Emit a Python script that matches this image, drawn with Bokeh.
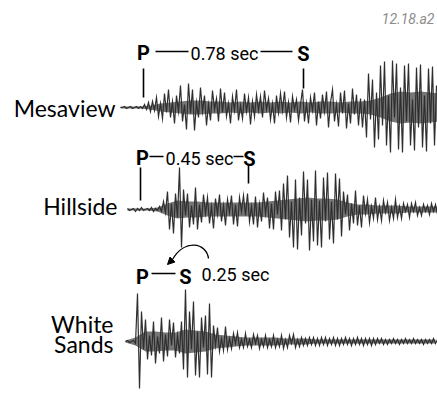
from bokeh.plotting import figure
from bokeh.models import Range1d, Arrow, NormalHead
from bokeh.core.properties import value
from bokeh.embed import file_html
from bokeh.resources import INLINE

# ---------------- data ----------------
stations = ["Mesaview", "Hillside", "White", "Sands"]
intervals = ["0.78 sec", "0.45 sec", "0.25 sec"]
figure_id = "12.18.a2"

# trace amplitudes (pixels above baseline, signed), sampled every 2 px
mesaview_amp = [0, 0, 1, -1, 0, 1, -1, 0, 1, -1, 1, -1,
                3, -2, 5, -4,
                6, -3, 10, -9, 4, -11,
                14, -5, 18, -10, 6, -16, 12, -4, 22,
                -14, 3, -22, 24, -6, 18, -23, 5, -10, 20,
                -4, 12, -18, 3, -13, 17, -2, 9, -14, 19,
                -5, 15, -9, 4, -16, 11, -3, 18, -13, 2,
                -11, 14, -4, 10, -17, 6, -9, 13, -3, 11,
                -10, 17, -2, 9, -12, 4, -16, 12, -5, 14,
                -3, 16, -10, 5, -15, 11, -2, 8, -13, 3,
                18, -14, 4, -16, 10, -3, 15, -18, 6, -11,
                13, -4, 16, -20, 5, 18, -14, 3, -19, 15,
                -6, 17, -21, 4, -16, 19, -7, 13, -18, 9,
                -20, 8, -30, 34, -12, 28, -40, 15, -32, 42,
                -18, 46, -38, 12, -45, 47, -10, 44, -42, 20,
                -45, 42, -14, 44, -38, 8, -43, 40, -20, 43,
                -40, 12, -44, 39, -16, 41, -38, 22]
hillside_amp = [1, -1, 0, 1, -2, 1, -1, 2, -1, 0, 1, -1, 2, -2, 1, -1, 3, -2,
                8, -3, 18, -20, 6, -24, 16, -8,
                42, -38,
                20, -6, 16, -18, 4, -15, 22, -20, 5, -13,
                15, -4, 12, -14, 3, -19, 11, -5, 15, -12,
                4, -16, 10, -3, 14, -15, 5, -17, 12, -2,
                14, -6, 16, -12, 3, -15, 13, -18, 5, -12,
                17, -4, 12, -19, 6, -20, 18, -5, 19, -21,
                26, -10, 34, -28, 8, -38, 30, -40, 12, -26,
                38, -14, 30, -41, 10, -32, 39, -36, 9, -38,
                32, -12, 37, -30, 8, -34, 36, -10, 31, -27,
                18, -5, 15, -21, 6, -14, 19, -16, 4, -18,
                14, -4, 10, -13, 3, -9, 12, -10, 3, -11,
                9, -3, 7, -11, 2, -9, 10, -8, 3, -9,
                6, -2, 5, -8, 6, -2, 7, -6, 2, -6,
                5, -2, 4, -5, 6, -2, 5, -5]
whitesands_amp = [0, 1, -1, 0, 1, -2,
                  48, -47,
                  30, -8, 22, -18, 6, -14, 20, -22, 5, -12,
                  24, -20, 7, -15, 22, -4, 19, -16, 6, -12,
                  20, -28, 52, -36, 30,
                  -8, 40, -34, 10, -36, 24, -6, 26, -33, 38, -36,
                  16, -4, 14, -10, 3, -9, 15, -8, 3, -7,
                  8, -2, 9, -6, 2, -6, 8, -5, 2, -6,
                  7, -2, 6, -7, 2, -5, 6, -6, 2, -5, 6,
                  -6, 2, -5, 6, -7, 2, -6, 6, -2, 7, -6, 2, -5, 4,
                  -4, 3, -4, 4, -3, 4, -4, 3, -4, 4, -3, 4, -4, 3, -3, 4, -4, 3, -4,
                  3, -3, 4, -3, 3, -4, 3, -3, 4, -3, 3, -4, 3, -3, 3, -4, 3, -3,
                  3, -2, 3, -3, 2, -3, 2, -2, 3, -2, 2, -3, 2, -2, 3, -2,
                  2, -2, 3, -2, 2, -2, 2, -3, 2, -2, 2, -2, 3, -2, 2]

# dense dark core half-thickness of each trace, sampled every 10 px
mesaview_core = [1, 1, 1, 2, 4, 5, 6, 7, 7, 6, 6, 5, 6, 5, 6, 5, 6, 5, 6, 5,
                 6, 6, 5, 6, 6, 7, 10, 14, 16, 15, 16, 15, 14]
hillside_core = [1, 1, 1, 2, 6, 9, 8, 8, 7, 7, 7, 7, 7, 7, 8, 9,
                 10, 11, 12, 11, 11, 10, 7, 5, 5, 4, 4, 4, 3, 3, 3, 3]
whitesands_core = [1, 4, 10, 10, 9, 9, 12, 11, 10, 7, 6, 5, 4, 4, 4, 4,
                   3, 3, 3, 2, 2, 2, 2, 2, 2, 2, 2, 2, 2, 2, 2, 2]

# ---------------- layout (pixel-like data coordinates) ----------------
W, H = 437, 393
p = figure(width=W, height=H, x_range=Range1d(0, W), y_range=Range1d(H, 0),
           output_backend="svg", toolbar_location=None,
           x_axis_location=None, y_axis_location=None,
           min_border=0, min_border_left=0, min_border_right=0,
           min_border_top=0, min_border_bottom=0)
p.grid.visible = False
p.outline_line_color = None
p.background_fill_color = "white"
p.border_fill_color = "white"

traces = [(mesaview_amp, mesaview_core, 120, 107),
          (hillside_amp, hillside_core, 127, 209),
          (whitesands_amp, whitesands_core, 125, 341)]
for amps, core, x0, base in traces:
    cx = [x0 + 10 * i for i in range(len(core))]
    p.varea(x=cx, y1=[base - c for c in core], y2=[base + c for c in core],
            fill_color="#1a1a1a", fill_alpha=0.6)
    xs = [x0 + 2 * i for i in range(len(amps))]
    ys = [base - a for a in amps]
    p.line(xs, ys, line_color="#2e2e2e", line_width=1.2, line_join="miter")

# station labels
p.text(x=[115, 117, 113, 113], y=[107, 205, 323, 343], text=stations,
       text_font=value("Lato"), text_font_size="23px", text_align="right",
       text_baseline="alphabetic", text_color="black")

# P / S labels
ps_font = value("Roboto")
p.text(x=[143, 303, 142, 249, 142, 185], y=[52, 53, 157, 158, 276, 276],
       text=["P", "S", "P", "S", "P", "S"], text_font=ps_font, text_font_size="20px",
       text_font_style="bold", text_align="center", text_baseline="alphabetic",
       text_color="black")

# interval labels
p.text(x=[224, 199, 235], y=[53, 158, 274], text=intervals, text_font=ps_font,
       text_font_size="18px", text_align="center", text_baseline="alphabetic",
       text_color="black")

# connecting dashes
p.segment(x0=[155, 260, 149, 233, 151], y0=[51, 51, 156, 156, 273],
          x1=[188, 292, 163, 243, 175], y1=[51, 51, 156, 156, 273],
          line_color="black", line_width=1.6)

# arrival ticks
p.segment(x0=[143, 303, 140, 248], y0=[68, 68, 167, 165],
          x1=[143, 303, 140, 248], y1=[97, 88, 200, 183],
          line_color="black", line_width=1.6)

# curved arrow for 0.25 sec
p.bezier(x0=[208], y0=[258], x1=[172], y1=[259], cx0=[206], cy0=[242],
         cx1=[184], cy1=[238], line_color="black", line_width=1.3)
p.add_layout(Arrow(end=NormalHead(size=7, fill_color="black", line_color="black"),
                   x_start=172, y_start=259, x_end=167, y_end=264,
                   line_color="black", line_width=1.3))

# figure id
p.text(x=[434], y=[18], text=[figure_id], text_font=value("Roboto"),
       text_font_size="14px", text_font_style="italic", text_align="right",
       text_baseline="alphabetic", text_color="#8c8c8c")

open("out.html", "w").write(file_html(p, INLINE))
